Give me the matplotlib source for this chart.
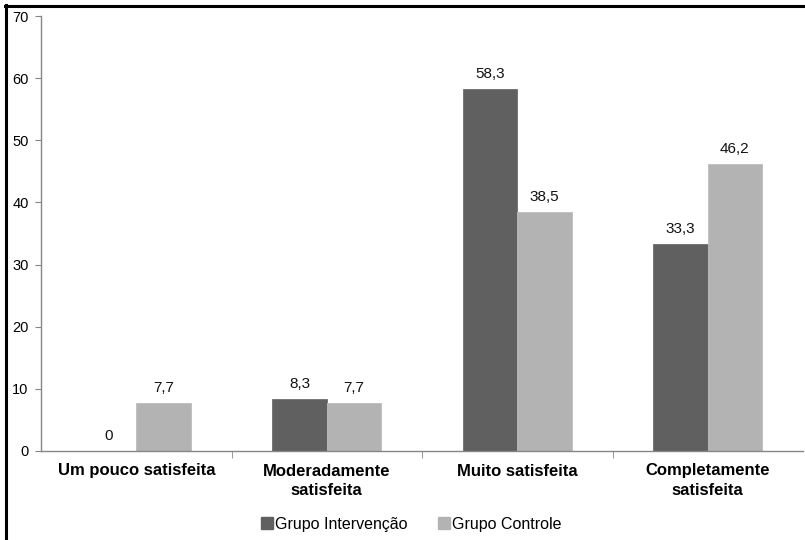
import matplotlib.pyplot as plt
import numpy as np
from matplotlib.lines import Line2D

plt.rcParams["font.family"] = ["Liberation Sans", "DejaVu Sans"]

categories = ["Um pouco satisfeita", "Moderadamente\nsatisfeita",
              "Muito satisfeita", "Completamente\nsatisfeita"]
intervencao = [0, 8.3, 58.3, 33.3]
controle = [7.7, 7.7, 38.5, 46.2]
series_names = ["Grupo Intervenção", "Grupo Controle"]

DARK = "#606060"
LIGHT = "#b3b3b3"
SPINE = "#868686"


def fmt(v):
    return f"{v:g}".replace(".", ",")


fig = plt.figure(figsize=(8.05, 5.40), dpi=100)
ax = fig.add_axes([41 / 805, 89 / 540, 762 / 805, 435 / 540])

x = np.arange(len(categories))
w = 0.285
b1 = ax.bar(x - w / 2, intervencao, w, color=DARK, edgecolor="#6e6e6e", linewidth=0.6)
b2 = ax.bar(x + w / 2, controle, w, color=LIGHT, edgecolor="#bdbdbd", linewidth=0.6)

for bars, vals in ((b1, intervencao), (b2, controle)):
    for bar, v in zip(bars, vals):
        ax.text(bar.get_x() + bar.get_width() / 2, v + 1.3, fmt(v),
                ha="center", va="bottom", fontsize=11, color="#111111")

ax.set_xlim(-0.5, len(categories) - 0.5)
ax.set_ylim(0, 70)
ax.set_yticks(range(0, 71, 10))
ax.tick_params(axis="y", direction="out", length=4, color=SPINE, labelsize=10.5, pad=5)
ax.set_xticks(x)
ax.set_xticklabels(categories, fontsize=12, fontweight="bold", linespacing=1.35)
ax.tick_params(axis="x", length=0, pad=9)
ax.set_xticks(np.arange(0.5, len(categories) - 0.5), minor=True)
ax.tick_params(axis="x", which="minor", direction="out", length=5, color=SPINE)

for side in ("top", "right"):
    ax.spines[side].set_visible(False)
for side in ("left", "bottom"):
    ax.spines[side].set_color(SPINE)
    ax.spines[side].set_linewidth(1.0)

handles = [Line2D([], [], marker="s", linestyle="", markersize=8, color=DARK),
           Line2D([], [], marker="s", linestyle="", markersize=8, color=LIGHT)]
fig.legend(handles, series_names, loc="center", bbox_to_anchor=(410 / 805, 1 - 524 / 540),
           ncol=2, frameon=False, fontsize=11.5, handletextpad=0.0, columnspacing=1.8,
           handlelength=1.0)

# outer frame (left and top edges)
fig.add_artist(Line2D([6 / 805, 6 / 805], [0, 1 - 5 / 540], transform=fig.transFigure,
                      color="black", linewidth=2.2))
fig.add_artist(Line2D([5 / 805, 1], [1 - 6 / 540, 1 - 6 / 540], transform=fig.transFigure,
                      color="black", linewidth=2.2))

fig.savefig("out.png", dpi=100)
